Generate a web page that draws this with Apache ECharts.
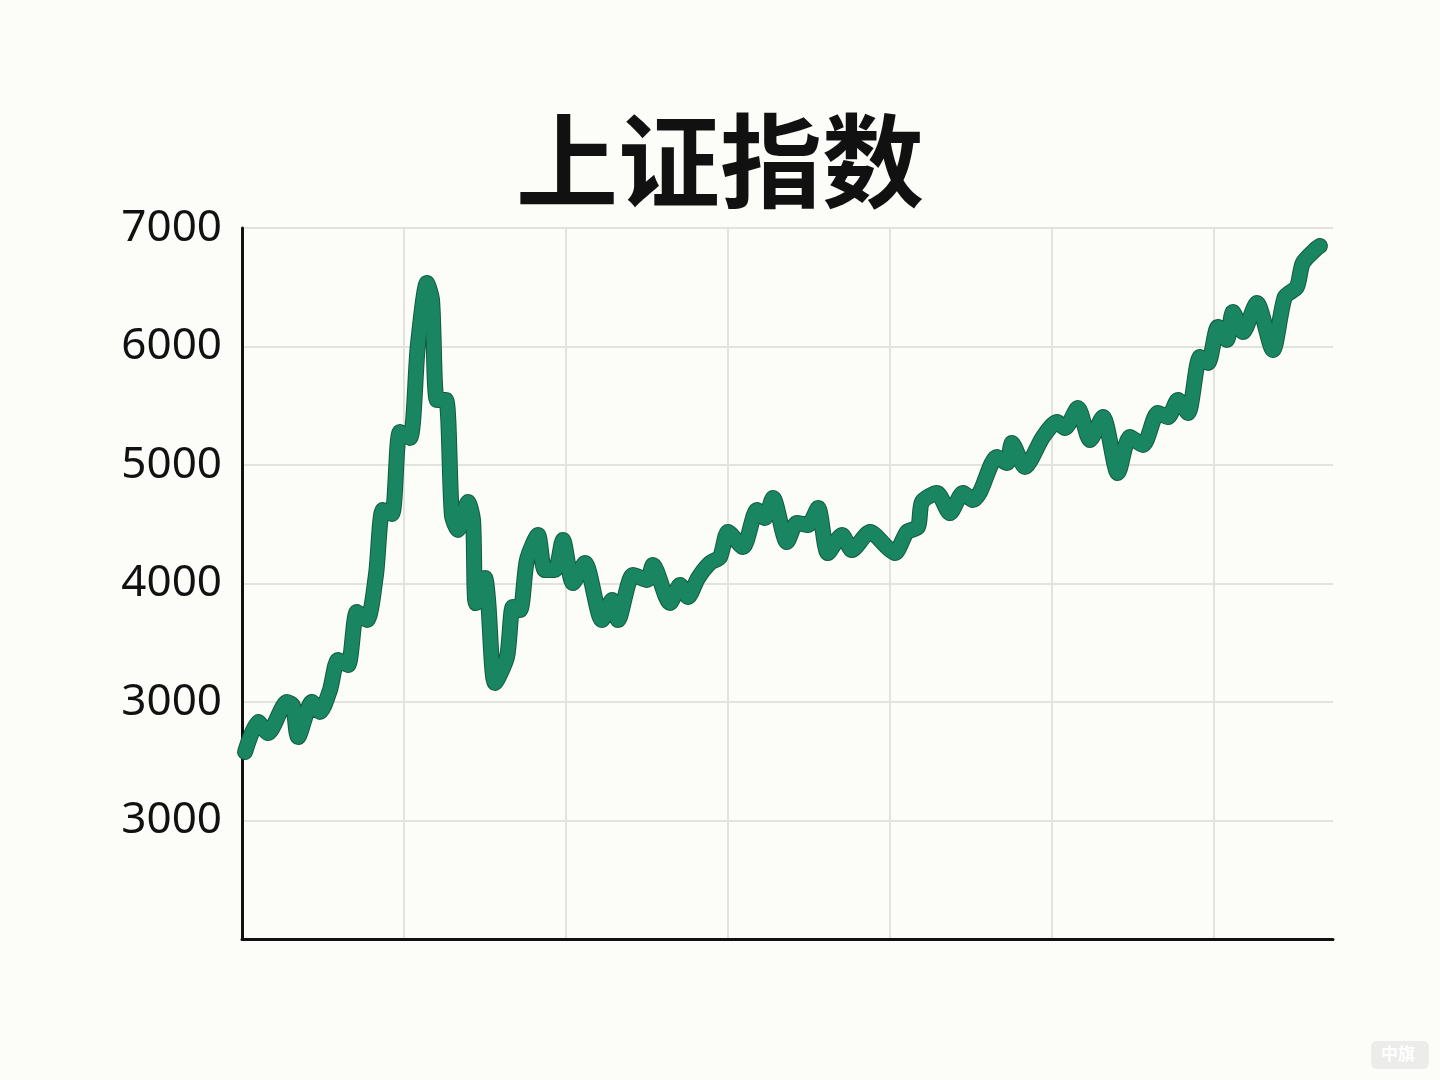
<!DOCTYPE html>
<html>
<head>
<meta charset="utf-8">
<script src="https://cdn.jsdelivr.net/npm/echarts@6/dist/echarts.min.js"></script>
<style>
html,body{margin:0;padding:0;background:#fcfcf8;}
#chart{width:1440px;height:1080px;}
</style>
</head>
<body>
<div id="chart"></div>
<script>
// Time positions (x, in axis units) and index values
const timePos = [0.019,0.099,0.160,0.278,0.315,0.346,0.432,0.481,0.543,0.593,0.654,0.710,0.772,0.827,0.870,0.926,0.975,1.037,1.086,1.142,1.173,1.204,1.259,1.296,1.333,1.395,1.426,1.444,1.500,1.519,1.562,1.636,1.673,1.716,1.759,1.827,1.870,1.932,1.981,2.043,2.117,2.222,2.284,2.321,2.414,2.500,2.537,2.642,2.704,2.753,2.815,2.889,2.951,3.000,3.093,3.179,3.228,3.278,3.364,3.426,3.494,3.556,3.617,3.704,3.765,3.877,3.981,4.031,4.105,4.173,4.198,4.290,4.370,4.451,4.512,4.556,4.660,4.722,4.753,4.833,4.944,5.031,5.080,5.160,5.235,5.315,5.407,5.481,5.562,5.654,5.716,5.778,5.840,5.914,5.963,6.025,6.080,6.117,6.179,6.265,6.364,6.438,6.512,6.549,6.636,6.654];
const indexValues = [2578,2831,2738,3000,2966,2705,3000,2916,3101,3354,3312,3760,3692,4072,4620,4587,5279,5228,6013,6536,6392,5549,5549,4578,4452,4688,4536,3835,4046,3861,3160,3380,3802,3776,4198,4409,4114,4114,4367,4004,4173,3692,3861,3692,4072,4030,4156,3835,3987,3886,4046,4173,4224,4435,4308,4620,4553,4722,4350,4511,4494,4637,4257,4409,4283,4435,4308,4257,4435,4477,4688,4764,4595,4764,4705,4772,5068,5017,5186,4983,5236,5363,5312,5481,5211,5405,4932,5236,5169,5439,5405,5549,5439,5911,5861,6165,6055,6291,6122,6367,5970,6418,6502,6705,6831,6848];
const yTicks = [2000,3000,4000,5000,6000,7000];
const yTickLabels = ['3000','3000','4000','5000','6000','7000'];
const titleText = '上证指数';
const watermarkText = '中旗';

const seriesData = timePos.map((t, i) => [t, indexValues[i]]);

const chart = echarts.init(document.getElementById('chart'));
const gridColors = ['#e2e2df','#e2e2df','#e2e2df','#e2e2df','#e2e2df','#e2e2df','#e2e2df','rgba(0,0,0,0)'];
chart.setOption({
  backgroundColor: '#fcfcf8',
  animation: false,
  title: {
    text: titleText,
    left: 'center',
    top: 105,
    textStyle: {
      fontFamily: '"Noto Sans CJK SC", sans-serif',
      fontSize: 102,
      fontWeight: 700,
      color: '#111111'
    }
  },
  grid: { left: 242, right: 107, top: 228, bottom: 141, containLabel: false },
  xAxis: {
    type: 'value',
    min: 0,
    max: 6.735,
    interval: 1,
    axisLine: { show: true, onZero: false, lineStyle: { color: '#111111', width: 3 } },
    axisTick: { show: false },
    axisLabel: { show: false },
    splitLine: { show: true, lineStyle: { color: gridColors, width: 2 } }
  },
  yAxis: {
    type: 'value',
    min: 1000,
    max: 7000,
    interval: 1000,
    axisLine: { show: true, lineStyle: { color: '#111111', width: 3 } },
    axisTick: { show: false },
    axisLabel: {
      margin: 20,
      fontFamily: '"Noto Sans", sans-serif',
      fontSize: 44,
      color: '#111111',
      formatter: function (v) {
        const i = yTicks.indexOf(v);
        return i >= 0 ? yTickLabels[i] : '';
      }
    },
    splitLine: { show: true, lineStyle: { color: '#e2e2df', width: 2 } }
  },
  series: [
    {
      type: 'line',
      data: seriesData,
      symbol: 'none',
      smooth: 0.25,
      silent: true,
      z: 2,
      lineStyle: { color: '#0f5c40', width: 16, join: 'round', cap: 'round' }
    },
    {
      type: 'line',
      data: seriesData,
      symbol: 'none',
      smooth: 0.25,
      silent: true,
      z: 3,
      lineStyle: { color: '#1a8661', width: 14, join: 'round', cap: 'round' }
    }
  ],
  graphic: [
    {
      type: 'rect',
      left: 1371,
      top: 1041,
      shape: { width: 58, height: 28, r: 6 },
      style: { fill: '#ececea' },
      silent: true
    },
    {
      type: 'text',
      left: 1381,
      top: 1045,
      style: {
        text: watermarkText,
        fill: '#ffffff',
        font: 'bold 17px "Noto Sans CJK SC", sans-serif'
      },
      silent: true
    }
  ]
});
</script>
</body>
</html>
